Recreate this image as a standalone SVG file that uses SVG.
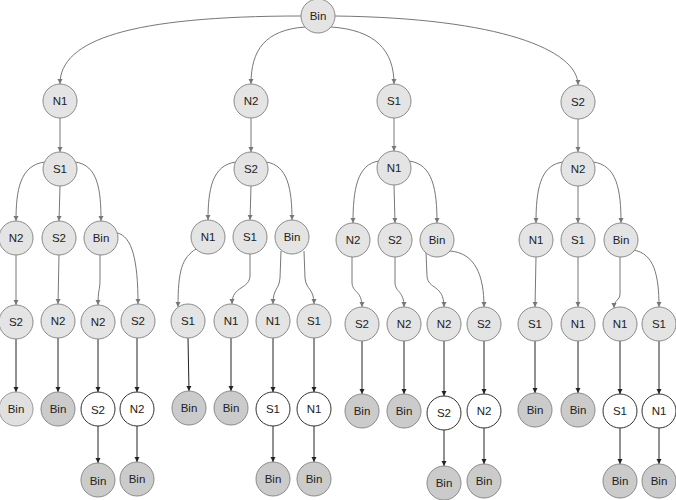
<svg xmlns="http://www.w3.org/2000/svg" width="676" height="500" viewBox="0 0 676 500">
<style>
text{font-family:"Liberation Sans",Arial,sans-serif;font-size:11.5px;fill:#222;text-anchor:middle;dominant-baseline:central}
.n circle{fill:#e4e4e4;stroke:#8a8a8a;stroke-width:1}
.d circle{fill:#cbcbcb;stroke:#8a8a8a;stroke-width:1}
.w circle{fill:#fff;stroke:#333;stroke-width:1}
.l circle{fill:#e0e0e0;stroke:#999;stroke-width:1}
.eg path{fill:none;stroke:#777;stroke-width:1;marker-end:url(#ag)}
.ek path{fill:none;stroke:#222;stroke-width:1;marker-end:url(#ak)}
</style>
<defs>
<marker id="ag" markerWidth="6" markerHeight="6" refX="5" refY="3" orient="auto" markerUnits="userSpaceOnUse"><path d="M0,0.5 L5,3 L0,5.5 Z" fill="#777"/></marker>
<marker id="ak" markerWidth="6" markerHeight="6" refX="5" refY="3" orient="auto" markerUnits="userSpaceOnUse"><path d="M0,0.5 L5,3 L0,5.5 Z" fill="#222"/></marker>
</defs>
<g id="connectors">
<g class="eg">
<path d="M301,16 C130,16 60,40 60,84"/>
<path d="M305,27 C265,30 251,50 251,84"/>
<path d="M331,27 C375,30 394,50 394,84"/>
<path d="M335,16 C500,18 578,50 578,85"/>
<path d="M60,118 L60,152"/>
<path d="M251,118 L251,152"/>
<path d="M394,118 L394,151"/>
<path d="M578,119 L578,152"/>
<path d="M45,162 C20,165 16,190 16,221"/>
<path d="M60,186 L59,221"/>
<path d="M75,162 C98,165 101,190 101,221"/>
<path d="M236,162 C212,165 208,190 208,220"/>
<path d="M251,186 L250,220"/>
<path d="M266,162 C288,165 292,190 292,220"/>
<path d="M379,161 C357,164 353,190 353,223"/>
<path d="M394,185 L395,223"/>
<path d="M409,161 C433,164 437,190 437,223"/>
<path d="M563,162 C540,165 536,190 536,223"/>
<path d="M578,186 L578,223"/>
<path d="M593,162 C617,165 621,190 621,223"/>
<path d="M16,255 L16,305"/>
<path d="M59,255 L58,304"/>
<path d="M100,255 L100,280 C100,290 98,290 98,305"/>
<path d="M117,233 C132,236 138,260 138,304"/>
<path d="M196,249 C182,258 178,270 178,307"/>
<path d="M250,254 L250,275 C250,290 232,285 232,304"/>
<path d="M281,251 L280,278 C279,290 273,288 273,304"/>
<path d="M304,251 L305,278 C306,290 314,288 314,304"/>
<path d="M352,257 L352,282 C352,293 362,290 362,307"/>
<path d="M395,257 L395,282 C395,293 404,290 404,307"/>
<path d="M426,252 L427,276 C428,290 444,284 444,307"/>
<path d="M450,251 C475,253 484,275 484,307"/>
<path d="M536,257 L535,307"/>
<path d="M578,257 L578,307"/>
<path d="M620,257 L620,294 C620,300 614,300 614,308"/>
<path d="M633,250 C654,253 659,275 659,307"/>
</g>
<g class="ek">
<path d="M16,339 L16,392"/>
<path d="M58,338 L58,392"/>
<path d="M98,339 L98,392"/>
<path d="M137,338 L137,392"/>
<path d="M188,338 L189,391"/>
<path d="M231,338 L231,391"/>
<path d="M273,338 L273,392"/>
<path d="M314,338 L314,392"/>
<path d="M362,341 L362,394"/>
<path d="M404,341 L404,394"/>
<path d="M444,341 L444,396"/>
<path d="M484,341 L484,394"/>
<path d="M535,341 L535,393"/>
<path d="M578,341 L578,393"/>
<path d="M620,341 L620,394"/>
<path d="M659,341 L659,394"/>
<path d="M98,426 L98,463"/>
<path d="M137,426 L137,462"/>
<path d="M273,426 L273,462"/>
<path d="M314,426 L314,462"/>
<path d="M444,430 L444,466"/>
<path d="M484,428 L484,464"/>
<path d="M620,428 L620,464"/>
<path d="M659,428 L659,464"/>
</g>
</g>
<g id="root" class="n"><circle cx="318" cy="16" r="17"/><text x="318" y="16">Bin</text></g>
<g id="a1" class="n"><circle cx="60" cy="101" r="17"/><text x="60" y="101">N1</text></g>
<g id="b1" class="n"><circle cx="251" cy="101" r="17"/><text x="251" y="101">N2</text></g>
<g id="c1" class="n"><circle cx="394" cy="101" r="17"/><text x="394" y="101">S1</text></g>
<g id="d1" class="n"><circle cx="578" cy="102" r="17"/><text x="578" y="102">S2</text></g>
<g id="a2" class="n"><circle cx="60" cy="169" r="17"/><text x="60" y="169">S1</text></g>
<g id="b2" class="n"><circle cx="251" cy="169" r="17"/><text x="251" y="169">S2</text></g>
<g id="c2" class="n"><circle cx="394" cy="168" r="17"/><text x="394" y="168">N1</text></g>
<g id="d2" class="n"><circle cx="578" cy="169" r="17"/><text x="578" y="169">N2</text></g>
<g id="a3a" class="n"><circle cx="16" cy="238" r="17"/><text x="16" y="238">N2</text></g>
<g id="a3b" class="n"><circle cx="59" cy="238" r="17"/><text x="59" y="238">S2</text></g>
<g id="a3c" class="n"><circle cx="101" cy="238" r="17"/><text x="101" y="238">Bin</text></g>
<g id="b3a" class="n"><circle cx="208" cy="237" r="17"/><text x="208" y="237">N1</text></g>
<g id="b3b" class="n"><circle cx="250" cy="237" r="17"/><text x="250" y="237">S1</text></g>
<g id="b3c" class="n"><circle cx="292" cy="237" r="17"/><text x="292" y="237">Bin</text></g>
<g id="c3a" class="n"><circle cx="353" cy="240" r="17"/><text x="353" y="240">N2</text></g>
<g id="c3b" class="n"><circle cx="395" cy="240" r="17"/><text x="395" y="240">S2</text></g>
<g id="c3c" class="n"><circle cx="437" cy="240" r="17"/><text x="437" y="240">Bin</text></g>
<g id="d3a" class="n"><circle cx="536" cy="240" r="17"/><text x="536" y="240">N1</text></g>
<g id="d3b" class="n"><circle cx="578" cy="240" r="17"/><text x="578" y="240">S1</text></g>
<g id="d3c" class="n"><circle cx="621" cy="240" r="17"/><text x="621" y="240">Bin</text></g>
<g id="a4a" class="n"><circle cx="16" cy="322" r="17"/><text x="16" y="322">S2</text></g>
<g id="a4b" class="n"><circle cx="58" cy="321" r="17"/><text x="58" y="321">N2</text></g>
<g id="a4c" class="n"><circle cx="98" cy="322" r="17"/><text x="98" y="322">N2</text></g>
<g id="a4d" class="n"><circle cx="138" cy="321" r="17"/><text x="138" y="321">S2</text></g>
<g id="b4a" class="n"><circle cx="188" cy="321" r="17"/><text x="188" y="321">S1</text></g>
<g id="b4b" class="n"><circle cx="231" cy="321" r="17"/><text x="231" y="321">N1</text></g>
<g id="b4c" class="n"><circle cx="273" cy="321" r="17"/><text x="273" y="321">N1</text></g>
<g id="b4d" class="n"><circle cx="314" cy="321" r="17"/><text x="314" y="321">S1</text></g>
<g id="c4a" class="n"><circle cx="362" cy="324" r="17"/><text x="362" y="324">S2</text></g>
<g id="c4b" class="n"><circle cx="404" cy="324" r="17"/><text x="404" y="324">N2</text></g>
<g id="c4c" class="n"><circle cx="444" cy="324" r="17"/><text x="444" y="324">N2</text></g>
<g id="c4d" class="n"><circle cx="484" cy="324" r="17"/><text x="484" y="324">S2</text></g>
<g id="d4a" class="n"><circle cx="535" cy="324" r="17"/><text x="535" y="324">S1</text></g>
<g id="d4b" class="n"><circle cx="578" cy="324" r="17"/><text x="578" y="324">N1</text></g>
<g id="d4c" class="n"><circle cx="620" cy="324" r="17"/><text x="620" y="324">N1</text></g>
<g id="d4d" class="n"><circle cx="659" cy="324" r="17"/><text x="659" y="324">S1</text></g>
<g id="a5a" class="l"><circle cx="16" cy="409" r="17"/><text x="16" y="409">Bin</text></g>
<g id="a5b" class="d"><circle cx="58" cy="409" r="17"/><text x="58" y="409">Bin</text></g>
<g id="a5c" class="w"><circle cx="98" cy="409" r="17"/><text x="98" y="410">S2</text></g>
<g id="a5d" class="w"><circle cx="137" cy="409" r="17"/><text x="137" y="409">N2</text></g>
<g id="b5a" class="d"><circle cx="189" cy="408" r="17"/><text x="189" y="408">Bin</text></g>
<g id="b5b" class="d"><circle cx="231" cy="408" r="17"/><text x="231" y="408">Bin</text></g>
<g id="b5c" class="w"><circle cx="273" cy="409" r="17"/><text x="273" y="409">S1</text></g>
<g id="b5d" class="w"><circle cx="314" cy="409" r="17"/><text x="314" y="409">N1</text></g>
<g id="c5a" class="d"><circle cx="362" cy="411" r="17"/><text x="362" y="411">Bin</text></g>
<g id="c5b" class="d"><circle cx="404" cy="411" r="17"/><text x="404" y="411">Bin</text></g>
<g id="c5c" class="w"><circle cx="444" cy="413" r="17"/><text x="444" y="413">S2</text></g>
<g id="c5d" class="w"><circle cx="484" cy="411" r="17"/><text x="484" y="411">N2</text></g>
<g id="d5a" class="d"><circle cx="535" cy="410" r="17"/><text x="535" y="410">Bin</text></g>
<g id="d5b" class="d"><circle cx="578" cy="410" r="17"/><text x="578" y="410">Bin</text></g>
<g id="d5c" class="w"><circle cx="620" cy="411" r="17"/><text x="620" y="411">S1</text></g>
<g id="d5d" class="w"><circle cx="659" cy="411" r="17"/><text x="659" y="411">N1</text></g>
<g id="a6a" class="d"><circle cx="98" cy="480" r="17"/><text x="98" y="481">Bin</text></g>
<g id="a6b" class="d"><circle cx="137" cy="479" r="17"/><text x="137" y="479">Bin</text></g>
<g id="b6a" class="d"><circle cx="273" cy="479" r="17"/><text x="273" y="479">Bin</text></g>
<g id="b6b" class="d"><circle cx="314" cy="479" r="17"/><text x="314" y="479">Bin</text></g>
<g id="c6a" class="d"><circle cx="444" cy="483" r="17"/><text x="444" y="483">Bin</text></g>
<g id="c6b" class="d"><circle cx="484" cy="481" r="17"/><text x="484" y="481">Bin</text></g>
<g id="d6a" class="d"><circle cx="620" cy="481" r="17"/><text x="620" y="481">Bin</text></g>
<g id="d6b" class="d"><circle cx="659" cy="481" r="17"/><text x="659" y="481">Bin</text></g>
</svg>
